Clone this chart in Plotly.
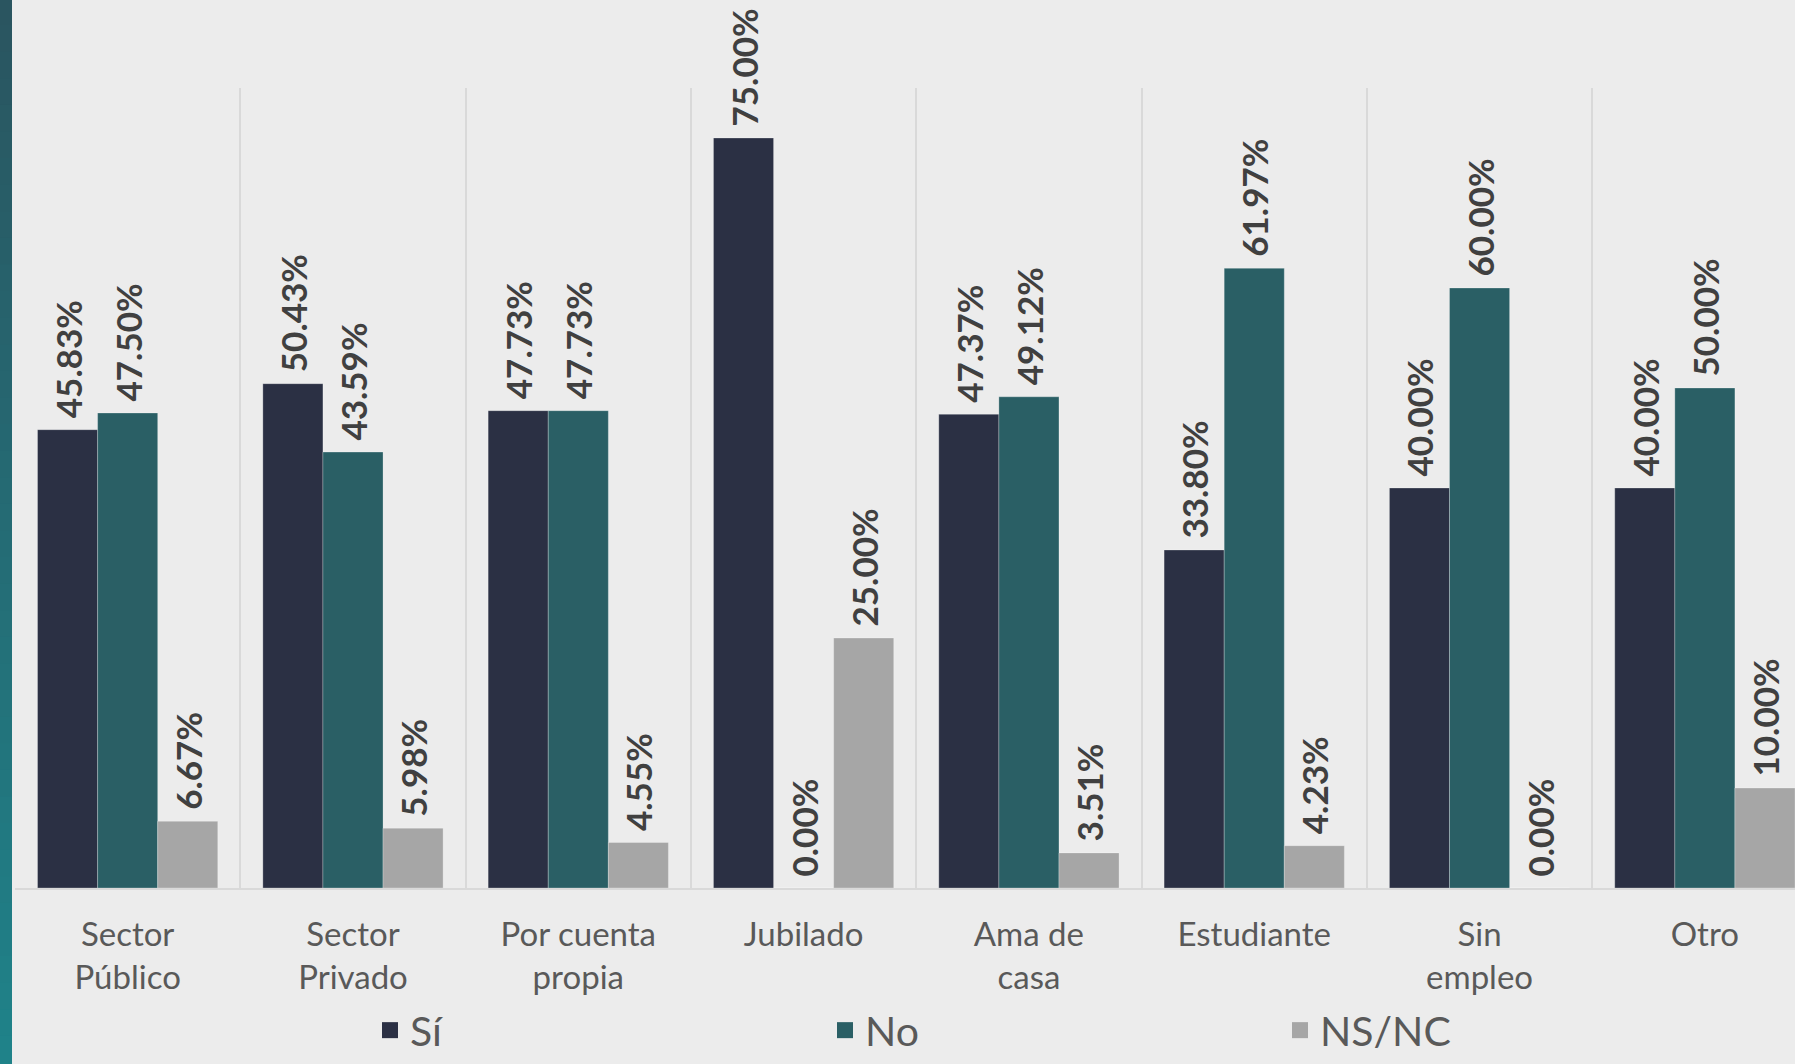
import plotly.graph_objects as go

categories = ["Sector<br>Público", "Sector<br>Privado", "Por cuenta<br>propia", "Jubilado",
              "Ama de<br>casa", "Estudiante", "Sin<br>empleo", "Otro"]
series_names = ["Sí", "No", "NS/NC"]
si_values = [45.83, 50.43, 47.73, 75.00, 47.37, 33.80, 40.00, 40.00]
no_values = [47.50, 43.59, 47.73, 0.00, 49.12, 61.97, 60.00, 50.00]
nsnc_values = [6.67, 5.98, 4.55, 25.00, 3.51, 4.23, 0.00, 10.00]

colors = ["#2b3044", "#2a5f65", "#a6a6a6"]
W, H = 1795, 1064
ML, MR, MT, MB = 15, 0, 88, 176
PW, PH = W - ML - MR, H - MT - MB

fig = go.Figure()
for name, vals, col in zip(series_names, [si_values, no_values, nsnc_values], colors):
    fig.add_trace(go.Bar(
        x=categories, y=vals, name=name, showlegend=False,
        marker=dict(color=col, line=dict(color="rgba(255,255,255,0.25)", width=1)),
        texttemplate="\u00a0%{y:.2f}%", textposition="outside", textangle=-90,
        textfont=dict(family="Lato", size=35, color="#404040", weight="bold"),
        cliponaxis=False, constraintext="none",
    ))
    fig.add_trace(go.Scatter(
        x=[None], y=[None], mode="markers", name=name,
        marker=dict(symbol="square", size=16, color=col),
    ))

# left gradient strip
n = 40
c0 = (0x2a, 0x55, 0x60)
c1 = (0x1f, 0x82, 0x89)
shapes = []
y_top = (MT + PH) / PH
y_bot = -MB / PH
for i in range(n):
    t = i / (n - 1)
    c = tuple(int(round(c0[k] + (c1[k] - c0[k]) * t)) for k in range(3))
    ya = y_top - (y_top - y_bot) * i / n
    yb = y_top - (y_top - y_bot) * (i + 1) / n
    shapes.append(dict(type="rect", xref="paper", yref="paper",
                       x0=-ML / PW, x1=(12 - ML) / PW, y0=yb, y1=ya + 0.002,
                       fillcolor="rgb(%d,%d,%d)" % c, line=dict(width=0), layer="above"))

fig.update_layout(
    width=W, height=H,
    margin=dict(l=ML, r=MR, t=MT, b=MB, autoexpand=False),
    paper_bgcolor="#ececec", plot_bgcolor="#ececec",
    barmode="group", bargap=0.2, bargroupgap=0,
    font=dict(family="Lato", color="#595959"),
    shapes=shapes,
    legend=dict(orientation="h", x=(370 - ML) / PW, xanchor="left",
                y=(MT + PH - 1064) / PH, yanchor="bottom",
                font=dict(family="Lato", size=41, color="#595959"),
                entrywidth=410, entrywidthmode="pixels", bgcolor="rgba(0,0,0,0)"),
    xaxis=dict(type="category", range=[-0.5, 7.4], tickson="boundaries",
               showgrid=True, gridcolor="#d9d9d9", gridwidth=2,
               showline=True, linecolor="#d9d9d9", linewidth=2,
               ticks="", ticklabelstandoff=16,
               tickfont=dict(family="Lato", size=33, color="#595959")),
    yaxis=dict(range=[0, 80], visible=False, showgrid=False, zeroline=False),
)

fig.write_html("out.html", config={"displayModeBar": False},
               post_script="document.body.style.margin='0';document.body.style.overflow='hidden';")
